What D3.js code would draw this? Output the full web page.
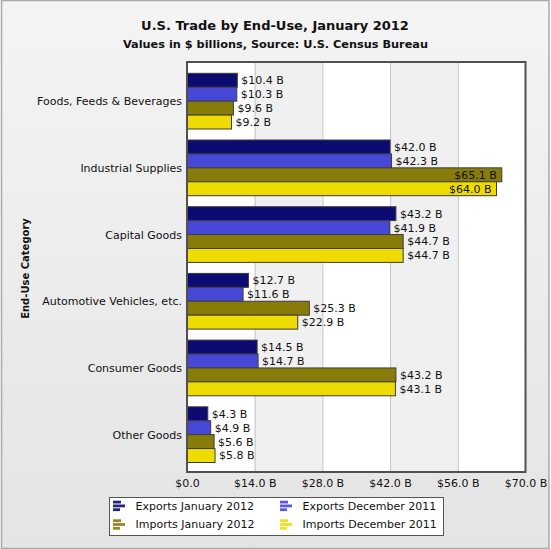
<!DOCTYPE html>
<html><head><meta charset="utf-8">
<script src="https://cdn.jsdelivr.net/npm/d3@7"></script>
<style>
html,body{margin:0;padding:0;background:#fff;}
svg{display:block;}
text{font-family:"DejaVu Sans",Verdana,sans-serif;}
</style></head>
<body>
<script>
const categories = ["Foods, Feeds & Beverages","Industrial Supplies","Capital Goods","Automotive Vehicles, etc.","Consumer Goods","Other Goods"];
const seriesNames = ["Exports January 2012","Exports December 2011","Imports January 2012","Imports December 2011"];
const exportsJan2012 = [10.4, 42.0, 43.2, 12.7, 14.5, 4.3];
const exportsDec2011 = [10.3, 42.3, 41.9, 11.6, 14.7, 4.9];
const importsJan2012 = [9.6, 65.1, 44.7, 25.3, 43.2, 5.6];
const importsDec2011 = [9.2, 64.0, 44.7, 22.9, 43.1, 5.8];
const seriesColors = ["#0b0b72","#4747d8","#877c0a","#eedc00"];
const tickValues = [0, 14, 28, 42, 56, 70];
const titleText = "U.S. Trade by End-Use, January 2012";
const subtitleText = "Values in $ billions, Source: U.S. Census Bureau";
const yAxisTitle = "End-Use Category";

const seriesValues = [exportsJan2012, exportsDec2011, importsJan2012, importsDec2011];

const W = 551, H = 549;
const plot = {left: 187, right: 525.5, top: 62, bottom: 472};

const svg = d3.select("body").append("svg").attr("width", W).attr("height", H);
const defs = svg.append("defs");
const bg = defs.append("linearGradient").attr("id","bg").attr("x1",0).attr("y1",0).attr("x2",0).attr("y2",1);
bg.append("stop").attr("offset","0%").attr("stop-color","#f4f4f4");
bg.append("stop").attr("offset","100%").attr("stop-color","#e4e4e4");

svg.append("rect").attr("x",0).attr("y",0).attr("width",W).attr("height",H).attr("fill","#fff");
svg.append("rect").attr("x",1.5).attr("y",0.5).attr("width",547.5).attr("height",548)
  .attr("fill","url(#bg)").attr("stroke","#a9a9a9").attr("stroke-width",1.5);

// titles
svg.append("text").attr("x",275).attr("y",30).attr("text-anchor","middle")
  .attr("font-size","13px").attr("font-weight","bold").attr("fill","#111").text(titleText);
svg.append("text").attr("x",275.5).attr("y",47.5).attr("text-anchor","middle")
  .attr("font-size","11.3px").attr("font-weight","bold").attr("fill","#111").text(subtitleText);

// scales
const x = d3.scaleLinear().domain([0,70]).range([plot.left, plot.right]);
const y0 = d3.scaleBand().domain(categories).range([67.8, 468.0]).paddingInner(0.165).paddingOuter(0.0825);
const y1 = d3.scaleBand().domain(d3.range(seriesNames.length)).range([0, y0.bandwidth()]);

// plot background bands
const bands = d3.pairs(tickValues);
svg.append("g").selectAll("rect").data(bands).join("rect")
  .attr("x", d => x(d[0])).attr("y", plot.top)
  .attr("width", d => x(d[1]) - x(d[0])).attr("height", plot.bottom - plot.top)
  .attr("fill", (d,i) => i % 2 ? "#f0f0f0" : "#ffffff");

// gridlines
const grid = svg.append("g").attr("transform",`translate(0,${plot.bottom})`)
  .call(d3.axisBottom(x).tickValues(tickValues.slice(1,-1)).tickSize(-(plot.bottom-plot.top)).tickFormat(""));
grid.select(".domain").remove();
grid.selectAll("line").attr("stroke","#c4c4c4").attr("stroke-width",1);

// bars
const rows = categories.map((c,i) => ({cat:c, vals: seriesValues.map((s,k) => ({k, v:s[i]}))}));
const groups = svg.append("g").selectAll("g").data(rows).join("g")
  .attr("transform", d => `translate(0,${y0(d.cat)})`);
groups.selectAll("rect").data(d => d.vals).join("rect")
  .attr("x", x(0)).attr("y", d => y1(d.k))
  .attr("width", d => x(d.v) - x(0)).attr("height", y1.bandwidth())
  .attr("fill", d => seriesColors[d.k]).attr("stroke","#3c3c3c").attr("stroke-width",1);

// value labels
const fmt = v => "$" + v.toFixed(1) + " B";
groups.selectAll("text").data(d => d.vals).join("text")
  .attr("font-size","11px").attr("fill","#111")
  .attr("y", d => y1(d.k) + y1.bandwidth()/2).attr("dy","0.36em")
  .text(d => fmt(d.v))
  .each(function(d){
    const w = this.getComputedTextLength();
    const end = x(d.v);
    const t = d3.select(this);
    if (end + 4 + w > plot.right - 2) {
      t.attr("x", end - 5).attr("text-anchor","end");
    } else {
      t.attr("x", end + 4).attr("text-anchor","start");
    }
  });

// category labels
svg.append("g").selectAll("text").data(categories).join("text")
  .attr("x", plot.left - 5).attr("y", d => y0(d) + y0.bandwidth()/2).attr("dy","0.36em")
  .attr("text-anchor","end").attr("font-size","11px").attr("fill","#111").text(d => d);

// plot border
svg.append("rect").attr("x",plot.left).attr("y",plot.top)
  .attr("width",plot.right-plot.left).attr("height",plot.bottom-plot.top)
  .attr("fill","none").attr("stroke","#505050").attr("stroke-width",2);

// x axis labels
const xAxis = svg.append("g").attr("transform",`translate(0,${plot.bottom})`)
  .call(d3.axisBottom(x).tickValues(tickValues).tickSize(0).tickPadding(7.5)
    .tickFormat(d => d === 0 ? "$0.0" : "$" + d.toFixed(1) + " B"));
xAxis.select(".domain").remove();
xAxis.selectAll("text").attr("font-size","11px").attr("fill","#111").attr("font-family","DejaVu Sans");

// y axis title
svg.append("text").attr("transform",`translate(29,268.5) rotate(-90)`).attr("text-anchor","middle")
  .attr("font-size","10px").attr("font-weight","bold").attr("fill","#111").text(yAxisTitle);

// legend
const leg = svg.append("g");
leg.append("rect").attr("x",109.5).attr("y",497.5).attr("width",334).attr("height",38)
  .attr("fill","#fff").attr("stroke","#555").attr("stroke-width",1);
const legPos = [[113,505.7],[280,505.7],[113,524.3],[280,524.3]];
const items = leg.selectAll("g").data(seriesNames).join("g")
  .attr("transform",(d,i) => `translate(${legPos[i][0]},${legPos[i][1]})`);
const iconBars = [[-5,8],[-1.2,12],[2.6,7]];
items.each(function(d,i){
  const g = d3.select(this);
  iconBars.forEach(b => {
    g.append("rect").attr("x",0).attr("y",b[0]).attr("width",b[1]).attr("height",2.8)
      .attr("fill",seriesColors[i]).attr("opacity",0.9);
  });
  g.append("text").attr("x",22.5).attr("y",0).attr("dy","0.36em")
    .attr("font-size","11px").attr("fill","#111").text(d);
});
</script>
</body></html>
